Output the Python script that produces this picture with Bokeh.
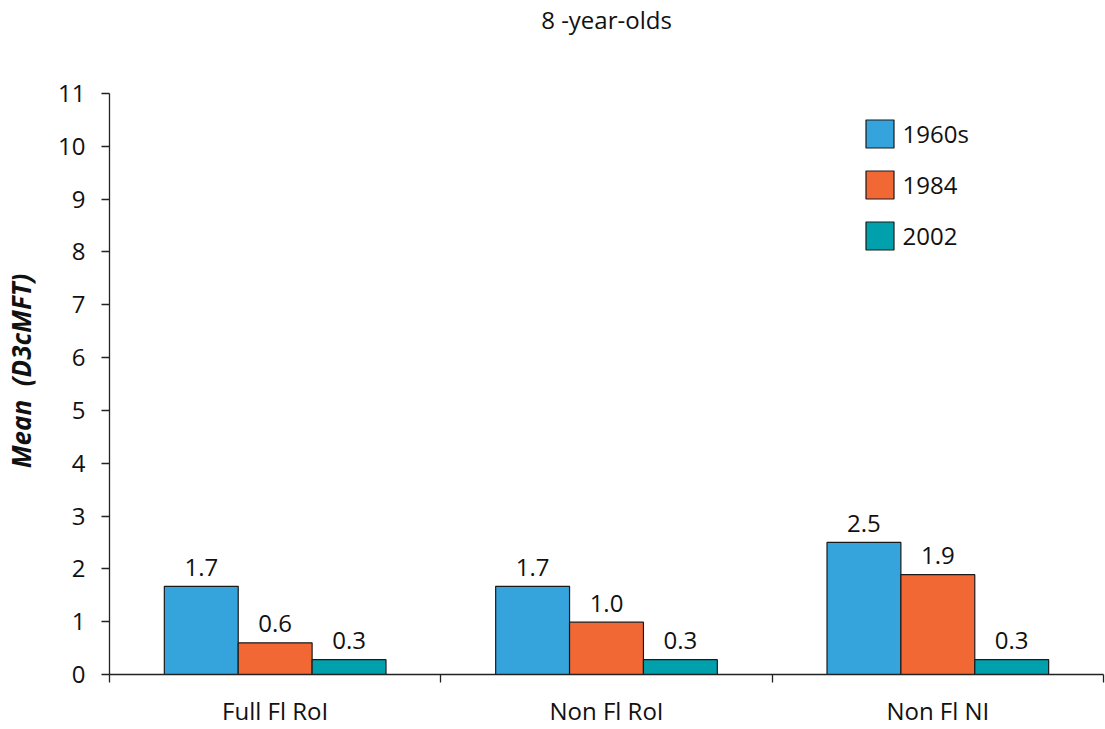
import math
from bokeh.plotting import figure
from bokeh.models import (ColumnDataSource, Legend, LegendItem, LinearAxis,
                          FixedTicker, Range1d)
from bokeh.embed import file_html
from bokeh.resources import INLINE
from bokeh.core.properties import value

# ---------------- data ----------------
title_text = "8 -year-olds"
groups = ["Full Fl RoI", "Non Fl RoI", "Non Fl NI"]
series = ["1960s", "1984", "2002"]
v1960s = [1.67, 1.67, 2.50]
v1984 = [0.60, 0.99, 1.89]
v2002 = [0.28, 0.28, 0.28]
colors = ["#35a3dc", "#f26835", "#00a0ad"]
y_ticks = list(range(0, 12))
y_label = "\u2003Mean\u00a0 (D3cMFT)"

# ---------------- geometry ----------------
FONT = "Open Sans"
W, H = 1105, 729
LB, RB, TB, BB = 108, 2, 93, 55
XMAX, YMAX = 3, 11

p = figure(width=W, height=H, x_range=Range1d(0, XMAX), y_range=Range1d(0, YMAX),
           output_backend="svg", toolbar_location=None,
           min_border_left=LB, min_border_right=RB,
           min_border_top=TB, min_border_bottom=BB)
p.outline_line_color = None
p.xgrid.visible = False
p.ygrid.visible = False
p.background_fill_color = "white"
p.border_fill_color = "white"

xa = p.below[0]
ya = p.left[0]

# title (pushed to the top edge by an invisible spacer axis below it)
p.title.text = title_text
p.title.align = "center"
p.title.text_font = FONT
p.title.text_font_size = "24px"
p.title.text_font_style = "normal"
p.title.text_color = "#111111"
p.title.standoff = 0

spacer = LinearAxis(ticker=FixedTicker(ticks=[XMAX / 2]), axis_line_color=None,
                    major_tick_line_color="white", major_tick_in=0, major_tick_out=58,
                    minor_tick_line_color=None, major_label_standoff=0,
                    major_label_overrides={XMAX / 2: ""},
                    major_label_text_font_size="1px")
p.add_layout(spacer, "above")

bar_w = 0.223
offsets = [-bar_w, 0.0, bar_w]
all_vals = [v1960s, v1984, v2002]
renderers = []
for s, vals, col, off in zip(series, all_vals, colors, offsets):
    src = ColumnDataSource(dict(
        x=[i + 0.5 + off for i in range(len(groups))],
        top=vals,
        lab=[f"{v:.1f}" for v in vals],
    ))
    r = p.vbar(x="x", top="top", width=bar_w, bottom=0, source=src,
               fill_color=col, line_color="#1a1a1a", line_width=1.2)
    renderers.append(r)
    p.text(x="x", y="top", text="lab", source=src, y_offset=-19,
           text_align="center", text_baseline="alphabetic",
           text_font=value(FONT), text_font_size="24px", text_color="#111111")

# axes
for ax in (xa, ya):
    ax.axis_line_color = "#222222"
    ax.axis_line_width = 1.3
    ax.major_tick_line_color = "#222222"
    ax.major_tick_line_width = 1.3
    ax.major_tick_in = 0
    ax.major_tick_out = 8
    ax.minor_tick_line_color = None
    ax.major_label_text_font = FONT
    ax.major_label_text_font_size = "24px"
    ax.major_label_text_color = "#111111"

ya.ticker = FixedTicker(ticks=y_ticks)
ya.major_label_standoff = 16
ya.axis_label = y_label
ya.axis_label_standoff = 16
ya.axis_label_text_font = FONT
ya.axis_label_text_font_size = "26px"
ya.axis_label_text_font_style = "bold italic"
ya.axis_label_text_color = "#111111"

centers = [i + 0.5 for i in range(len(groups))]
xa.ticker = FixedTicker(ticks=centers, minor_ticks=list(range(len(groups) + 1)))
xa.major_label_overrides = {c: g for c, g in zip(centers, groups)}
xa.major_tick_out = 0
xa.major_tick_line_color = None
xa.minor_tick_line_color = "#222222"
xa.minor_tick_line_width = 1.3
xa.minor_tick_in = 0
xa.minor_tick_out = 8
xa.major_label_standoff = 11

# legend
legend = Legend(items=[LegendItem(label=s, renderers=[r]) for s, r in zip(series, renderers)],
                location=(860.5 - LB, H - BB - 252.5),
                glyph_width=35, glyph_height=35, spacing=16, padding=0, margin=0,
                label_standoff=6, border_line_alpha=0, background_fill_alpha=0,
                label_text_font=FONT, label_text_font_size="24px",
                label_text_color="#111111", label_text_baseline="middle")
p.add_layout(legend)

open("out.html", "w").write(file_html(p, INLINE))
